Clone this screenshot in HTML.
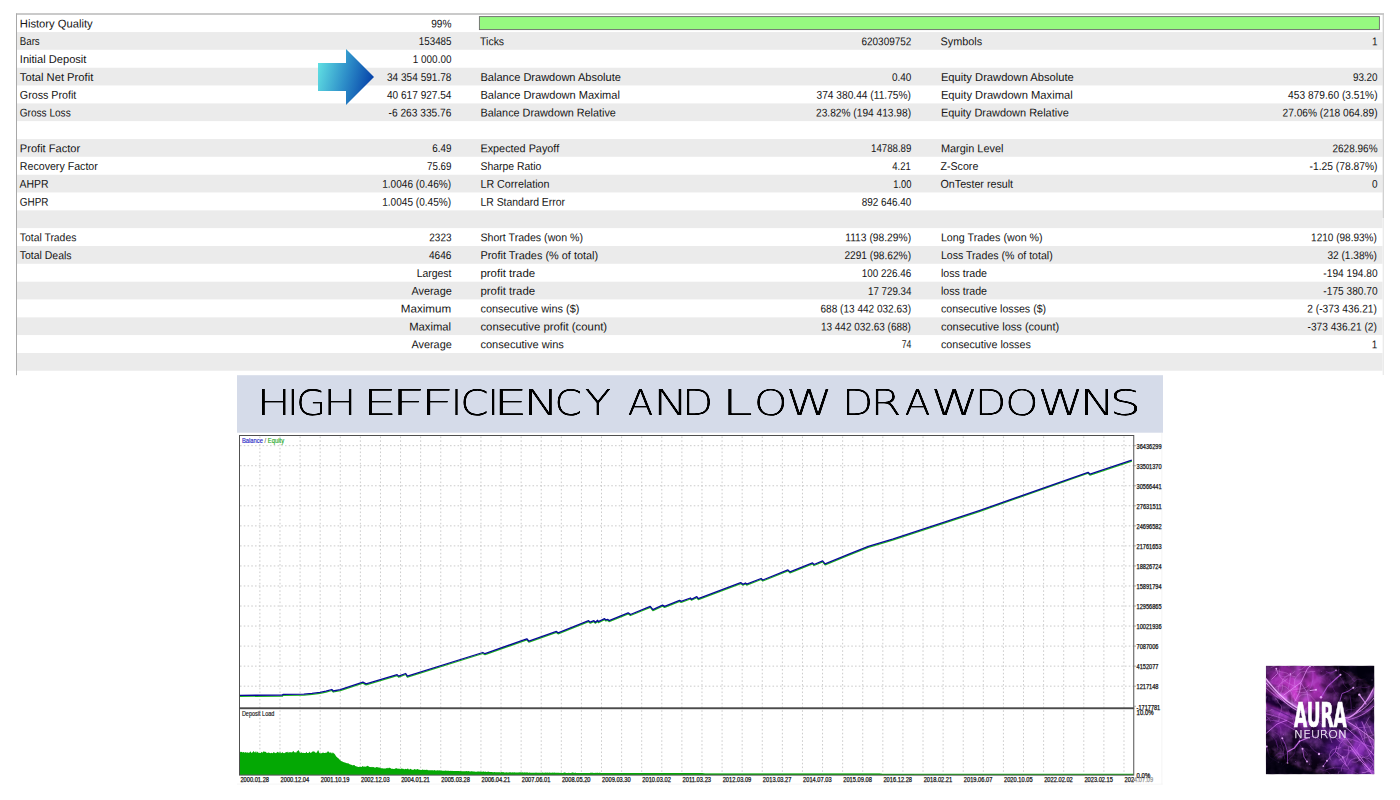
<!DOCTYPE html>
<html lang="en"><head><meta charset="utf-8"><title>Strategy Tester Report</title>
<style>
html,body{margin:0;padding:0;background:#fff;}
body{width:1400px;height:800px;overflow:hidden;position:relative;}
svg{position:absolute;left:0;top:0;display:block;}
.t{font-family:"Liberation Sans",sans-serif;font-size:11.3px;fill:#141414;}
.e{text-anchor:end;}
.ax{font-family:"Liberation Sans",sans-serif;font-size:6.55px;fill:#151515;stroke:#151515;stroke-width:.25px;}
.bn{font-family:"DejaVu Sans Light","DejaVu Sans","Liberation Sans",sans-serif;font-weight:200;font-size:36.4px;fill:#000;}
</style></head><body>
<svg width="1400" height="800" viewBox="0 0 1400 800">
<defs>
<linearGradient id="arr" x1="0" y1="0.32" x2="1" y2="0.56">
<stop offset="0" stop-color="#5fdde2"/><stop offset="0.5" stop-color="#2e8fc9"/><stop offset="1" stop-color="#0540a8"/>
</linearGradient>
<filter id="thk" x="-2%" y="-20%" width="104%" height="140%" color-interpolation-filters="sRGB"><feGaussianBlur stdDeviation="0.12 0.62"/><feComponentTransfer><feFuncA type="linear" slope="1.75" intercept="0"/></feComponentTransfer></filter>
</defs>
<rect x="16.5" y="32.08" width="1366.0" height="17.72" fill="#ebebeb"/>
<rect x="16.5" y="67.74" width="1366.0" height="17.72" fill="#ebebeb"/>
<rect x="16.5" y="103.40" width="1366.0" height="17.72" fill="#ebebeb"/>
<rect x="16.5" y="139.06" width="1366.0" height="17.72" fill="#ebebeb"/>
<rect x="16.5" y="174.72" width="1366.0" height="17.72" fill="#ebebeb"/>
<rect x="16.5" y="210.38" width="1366.0" height="17.72" fill="#ebebeb"/>
<rect x="16.5" y="246.04" width="1366.0" height="17.72" fill="#ebebeb"/>
<rect x="16.5" y="281.70" width="1366.0" height="17.72" fill="#ebebeb"/>
<rect x="16.5" y="317.36" width="1366.0" height="17.72" fill="#ebebeb"/>
<rect x="16.5" y="353.02" width="1366.0" height="17.72" fill="#ebebeb"/>
<rect x="16.0" y="13.5" width="1368.0" height="1" fill="#969696"/>
<rect x="16.0" y="13.5" width="1" height="361.7" fill="#a8a8a8"/>
<rect x="1382.7" y="14" width="1.1" height="204" fill="#c6c6c6"/>
<rect x="1382.7" y="218" width="1.1" height="157" fill="#e6e6e6"/>
<rect x="479.4" y="16.6" width="900" height="13" fill="#96fa80" stroke="#6a6a6a" stroke-width="0.9"/>
<path d="M318 63 H346 V49 L374 77 L346 105 V91 H318 Z" fill="url(#arr)"/>
<text class="t" transform="translate(19.80,27.45) rotate(.03) scale(0.9935,1)">History Quality</text>
<text class="t" transform="translate(431.20,27.45) rotate(.03) scale(0.8972,1)">99%</text>
<text class="t" transform="translate(19.80,45.27) rotate(.03) scale(0.8568,1)">Bars</text>
<text class="t" transform="translate(418.80,45.27) rotate(.03) scale(0.8674,1)">153485</text>
<text class="t" transform="translate(480.10,45.27) rotate(.03) scale(0.9249,1)">Ticks</text>
<text class="t" transform="translate(861.50,45.27) rotate(.03) scale(0.8824,1)">620309752</text>
<text class="t" transform="translate(940.50,45.27) rotate(.03) scale(0.9602,1)">Symbols</text>
<text class="t" transform="translate(1372.05,45.27) rotate(.03) scale(0.8850,1)">1</text>
<text class="t" transform="translate(19.80,63.09) rotate(.03) scale(0.9834,1)">Initial Deposit</text>
<text class="t" transform="translate(412.80,63.09) rotate(.03) scale(0.8800,1)">1 000.00</text>
<text class="t" transform="translate(19.80,80.91) rotate(.03) scale(0.9912,1)">Total Net Profit</text>
<text class="t" transform="translate(387.00,80.91) rotate(.03) scale(0.8927,1)">34 354 591.78</text>
<text class="t" transform="translate(480.45,80.91) rotate(.03) scale(0.9778,1)">Balance Drawdown Absolute</text>
<text class="t" transform="translate(892.00,80.91) rotate(.03) scale(0.8818,1)">0.40</text>
<text class="t" transform="translate(940.90,80.91) rotate(.03) scale(0.9894,1)">Equity Drawdown Absolute</text>
<text class="t" transform="translate(1352.90,80.91) rotate(.03) scale(0.8736,1)">93.20</text>
<text class="t" transform="translate(19.80,98.73) rotate(.03) scale(0.9497,1)">Gross Profit</text>
<text class="t" transform="translate(387.00,98.73) rotate(.03) scale(0.8927,1)">40 617 927.54</text>
<text class="t" transform="translate(480.45,98.73) rotate(.03) scale(0.9790,1)">Balance Drawdown Maximal</text>
<text class="t" transform="translate(816.50,98.73) rotate(.03) scale(0.9035,1)">374 380.44 (11.75%)</text>
<text class="t" transform="translate(940.90,98.73) rotate(.03) scale(0.9908,1)">Equity Drawdown Maximal</text>
<text class="t" transform="translate(1288.10,98.73) rotate(.03) scale(0.9018,1)">453 879.60 (3.51%)</text>
<text class="t" transform="translate(19.80,116.55) rotate(.03) scale(0.8915,1)">Gross Loss</text>
<text class="t" transform="translate(388.50,116.55) rotate(.03) scale(0.9032,1)">-6 263 335.76</text>
<text class="t" transform="translate(480.45,116.55) rotate(.03) scale(0.9591,1)">Balance Drawdown Relative</text>
<text class="t" transform="translate(816.00,116.55) rotate(.03) scale(0.9010,1)">23.82% (194 413.98)</text>
<text class="t" transform="translate(940.90,116.55) rotate(.03) scale(0.9697,1)">Equity Drawdown Relative</text>
<text class="t" transform="translate(1282.50,116.55) rotate(.03) scale(0.9010,1)">27.06% (218 064.89)</text>
<text class="t" transform="translate(19.80,152.19) rotate(.03) scale(0.9817,1)">Profit Factor</text>
<text class="t" transform="translate(432.30,152.19) rotate(.03) scale(0.8727,1)">6.49</text>
<text class="t" transform="translate(480.45,152.19) rotate(.03) scale(0.9601,1)">Expected Payoff</text>
<text class="t" transform="translate(871.00,152.19) rotate(.03) scale(0.8573,1)">14788.89</text>
<text class="t" transform="translate(940.90,152.19) rotate(.03) scale(0.9675,1)">Margin Level</text>
<text class="t" transform="translate(1332.50,152.19) rotate(.03) scale(0.8861,1)">2628.96%</text>
<text class="t" transform="translate(19.80,170.01) rotate(.03) scale(0.9421,1)">Recovery Factor</text>
<text class="t" transform="translate(427.00,170.01) rotate(.03) scale(0.8665,1)">75.69</text>
<text class="t" transform="translate(480.45,170.01) rotate(.03) scale(0.9227,1)">Sharpe Ratio</text>
<text class="t" transform="translate(892.30,170.01) rotate(.03) scale(0.8409,1)">4.21</text>
<text class="t" transform="translate(940.50,170.01) rotate(.03) scale(0.9409,1)">Z-Score</text>
<text class="t" transform="translate(1309.50,170.01) rotate(.03) scale(0.9110,1)">-1.25 (78.87%)</text>
<text class="t" transform="translate(19.50,187.83) rotate(.03) scale(0.9252,1)">AHPR</text>
<text class="t" transform="translate(382.20,187.83) rotate(.03) scale(0.8929,1)">1.0046 (0.46%)</text>
<text class="t" transform="translate(480.45,187.83) rotate(.03) scale(0.9492,1)">LR Correlation</text>
<text class="t" transform="translate(893.20,187.83) rotate(.03) scale(0.8273,1)">1.00</text>
<text class="t" transform="translate(940.50,187.83) rotate(.03) scale(0.9488,1)">OnTester result</text>
<text class="t" transform="translate(1372.05,187.83) rotate(.03) scale(0.8850,1)">0</text>
<text class="t" transform="translate(19.80,205.65) rotate(.03) scale(0.8806,1)">GHPR</text>
<text class="t" transform="translate(382.20,205.65) rotate(.03) scale(0.8929,1)">1.0045 (0.45%)</text>
<text class="t" transform="translate(480.45,205.65) rotate(.03) scale(0.9231,1)">LR Standard Error</text>
<text class="t" transform="translate(861.70,205.65) rotate(.03) scale(0.8789,1)">892 646.40</text>
<text class="t" transform="translate(19.80,241.29) rotate(.03) scale(0.9196,1)">Total Trades</text>
<text class="t" transform="translate(429.30,241.29) rotate(.03) scale(0.8827,1)">2323</text>
<text class="t" transform="translate(480.45,241.29) rotate(.03) scale(0.9394,1)">Short Trades (won %)</text>
<text class="t" transform="translate(845.20,241.29) rotate(.03) scale(0.9096,1)">1113 (98.29%)</text>
<text class="t" transform="translate(940.90,241.29) rotate(.03) scale(0.9483,1)">Long Trades (won %)</text>
<text class="t" transform="translate(1311.10,241.29) rotate(.03) scale(0.8877,1)">1210 (98.93%)</text>
<text class="t" transform="translate(19.80,259.11) rotate(.03) scale(0.9275,1)">Total Deals</text>
<text class="t" transform="translate(429.00,259.11) rotate(.03) scale(0.8946,1)">4646</text>
<text class="t" transform="translate(480.45,259.11) rotate(.03) scale(0.9666,1)">Profit Trades (% of total)</text>
<text class="t" transform="translate(844.40,259.11) rotate(.03) scale(0.8998,1)">2291 (98.62%)</text>
<text class="t" transform="translate(940.90,259.11) rotate(.03) scale(0.9386,1)">Loss Trades (% of total)</text>
<text class="t" transform="translate(1327.40,259.11) rotate(.03) scale(0.8955,1)">32 (1.38%)</text>
<text class="t" transform="translate(416.70,276.93) rotate(.03) scale(0.9231,1)">Largest</text>
<text class="t" transform="translate(480.45,276.93) rotate(.03) scale(1.0134,1)">profit trade</text>
<text class="t" transform="translate(861.80,276.93) rotate(.03) scale(0.8771,1)">100 226.46</text>
<text class="t" transform="translate(940.90,276.93) rotate(.03) scale(0.9429,1)">loss trade</text>
<text class="t" transform="translate(1323.35,276.93) rotate(.03) scale(0.8993,1)">-194 194.80</text>
<text class="t" transform="translate(411.40,294.75) rotate(.03) scale(0.9648,1)">Average</text>
<text class="t" transform="translate(480.45,294.75) rotate(.03) scale(1.0134,1)">profit trade</text>
<text class="t" transform="translate(868.00,294.75) rotate(.03) scale(0.8633,1)">17 729.34</text>
<text class="t" transform="translate(940.90,294.75) rotate(.03) scale(0.9429,1)">loss trade</text>
<text class="t" transform="translate(1323.35,294.75) rotate(.03) scale(0.8993,1)">-175 380.70</text>
<text class="t" transform="translate(400.80,312.57) rotate(.03) scale(1.0291,1)">Maximum</text>
<text class="t" transform="translate(480.45,312.57) rotate(.03) scale(0.9685,1)">consecutive wins ($)</text>
<text class="t" transform="translate(820.50,312.57) rotate(.03) scale(0.8902,1)">688 (13 442 032.63)</text>
<text class="t" transform="translate(940.90,312.57) rotate(.03) scale(0.9423,1)">consecutive losses ($)</text>
<text class="t" transform="translate(1307.25,312.57) rotate(.03) scale(0.9013,1)">2 (-373 436.21)</text>
<text class="t" transform="translate(409.20,330.39) rotate(.03) scale(0.9982,1)">Maximal</text>
<text class="t" transform="translate(480.45,330.39) rotate(.03) scale(1.0048,1)">consecutive profit (count)</text>
<text class="t" transform="translate(820.90,330.39) rotate(.03) scale(0.8863,1)">13 442 032.63 (688)</text>
<text class="t" transform="translate(940.90,330.39) rotate(.03) scale(0.9775,1)">consecutive loss (count)</text>
<text class="t" transform="translate(1307.60,330.39) rotate(.03) scale(0.8968,1)">-373 436.21 (2)</text>
<text class="t" transform="translate(411.40,348.21) rotate(.03) scale(0.9648,1)">Average</text>
<text class="t" transform="translate(480.45,348.21) rotate(.03) scale(0.9781,1)">consecutive wins</text>
<text class="t" transform="translate(901.80,348.21) rotate(.03) scale(0.7634,1)">74</text>
<text class="t" transform="translate(940.90,348.21) rotate(.03) scale(0.9483,1)">consecutive losses</text>
<text class="t" transform="translate(1371.65,348.21) rotate(.03) scale(0.8850,1)">1</text>
<rect x="237" y="375.2" width="926" height="57.5" fill="#d5dbe9"/>
<text class="bn" aria-label="HIGH EFFICIENCY AND LOW DRAWDOWNS" y="415.0" filter="url(#thk)" style="font-size:35.8px"><tspan x="256.88" textLength="34.16" lengthAdjust="spacingAndGlyphs">H</tspan><tspan x="287.56" textLength="10.56" lengthAdjust="spacingAndGlyphs">I</tspan><tspan x="296.39" textLength="29.81" lengthAdjust="spacingAndGlyphs">G</tspan><tspan x="323.20" textLength="33.41" lengthAdjust="spacingAndGlyphs">H</tspan><tspan x="355.1"> </tspan><tspan x="362.63" textLength="34.68" lengthAdjust="spacingAndGlyphs">E</tspan><tspan x="391.30" textLength="34.39" lengthAdjust="spacingAndGlyphs">F</tspan><tspan x="419.74" textLength="34.70" lengthAdjust="spacingAndGlyphs">F</tspan><tspan x="451.36" textLength="10.56" lengthAdjust="spacingAndGlyphs">I</tspan><tspan x="460.23" textLength="28.38" lengthAdjust="spacingAndGlyphs">C</tspan><tspan x="487.91" textLength="10.56" lengthAdjust="spacingAndGlyphs">I</tspan><tspan x="493.39" textLength="34.38" lengthAdjust="spacingAndGlyphs">E</tspan><tspan x="523.66" textLength="34.83" lengthAdjust="spacingAndGlyphs">N</tspan><tspan x="554.63" textLength="27.50" lengthAdjust="spacingAndGlyphs">C</tspan><tspan x="584.73" textLength="26.27" lengthAdjust="spacingAndGlyphs">Y</tspan><tspan x="614.0"> </tspan><tspan x="627.79" textLength="25.55" lengthAdjust="spacingAndGlyphs">A</tspan><tspan x="653.24" textLength="34.99" lengthAdjust="spacingAndGlyphs">N</tspan><tspan x="682.24" textLength="30.80" lengthAdjust="spacingAndGlyphs">D</tspan><tspan x="713.7"> </tspan><tspan x="721.80" textLength="31.04" lengthAdjust="spacingAndGlyphs">L</tspan><tspan x="753.92" textLength="33.55" lengthAdjust="spacingAndGlyphs">O</tspan><tspan x="786.03" textLength="46.70" lengthAdjust="spacingAndGlyphs">W</tspan><tspan x="832.3"> </tspan><tspan x="842.24" textLength="30.80" lengthAdjust="spacingAndGlyphs">D</tspan><tspan x="870.54" textLength="30.85" lengthAdjust="spacingAndGlyphs">R</tspan><tspan x="904.88" textLength="25.66" lengthAdjust="spacingAndGlyphs">A</tspan><tspan x="930.97" textLength="47.54" lengthAdjust="spacingAndGlyphs">W</tspan><tspan x="975.07" textLength="31.21" lengthAdjust="spacingAndGlyphs">D</tspan><tspan x="1005.15" textLength="33.30" lengthAdjust="spacingAndGlyphs">O</tspan><tspan x="1037.89" textLength="45.75" lengthAdjust="spacingAndGlyphs">W</tspan><tspan x="1079.61" textLength="35.78" lengthAdjust="spacingAndGlyphs">N</tspan><tspan x="1109.58" textLength="31.58" lengthAdjust="spacingAndGlyphs">S</tspan></text>
<rect x="237" y="433" width="925.5" height="351" fill="#fff"/>
<rect x="1161.4" y="433" width="1" height="351.5" fill="#f4f4f4"/>
<rect x="237" y="783.6" width="925.5" height="1" fill="#f6f6f6"/>
<path d="M259.89 436.5V774.6M279.99 436.5V774.6M300.09 436.5V774.6M320.18 436.5V774.6M340.27 436.5V774.6M360.37 436.5V774.6M380.47 436.5V774.6M400.56 436.5V774.6M420.65 436.5V774.6M440.75 436.5V774.6M460.85 436.5V774.6M480.94 436.5V774.6M501.04 436.5V774.6M521.13 436.5V774.6M541.22 436.5V774.6M561.32 436.5V774.6M581.41 436.5V774.6M601.51 436.5V774.6M621.61 436.5V774.6M641.70 436.5V774.6M661.80 436.5V774.6M681.89 436.5V774.6M701.98 436.5V774.6M722.08 436.5V774.6M742.17 436.5V774.6M762.27 436.5V774.6M782.37 436.5V774.6M802.46 436.5V774.6M822.56 436.5V774.6M842.65 436.5V774.6M862.74 436.5V774.6M882.84 436.5V774.6M902.93 436.5V774.6M923.03 436.5V774.6M943.12 436.5V774.6M963.22 436.5V774.6M983.32 436.5V774.6M1003.41 436.5V774.6M1023.50 436.5V774.6M1043.60 436.5V774.6M1063.69 436.5V774.6M1083.79 436.5V774.6M1103.88 436.5V774.6M1123.98 436.5V774.6M240.0 445.70H1133.8M240.0 465.74H1133.8M240.0 485.78H1133.8M240.0 505.82H1133.8M240.0 525.86H1133.8M240.0 545.90H1133.8M240.0 565.94H1133.8M240.0 585.98H1133.8M240.0 606.02H1133.8M240.0 626.06H1133.8M240.0 646.10H1133.8M240.0 666.14H1133.8M240.0 686.18H1133.8" stroke="#cbcbcb" stroke-width="1" stroke-dasharray="1.6 2.15" fill="none"/>
<path d="M239.6 696.4 L282.5 696.0 L283.0 695.4 L303.9 695.1 L312.0 694.4 L320.0 693.4 L326.0 692.2 L331.8 690.5 L333.3 692.0 L340.3 690.6 L362.9 683.1 L366.1 684.9 L397.1 675.6 L398.6 677.1 L405.7 674.5 L407.4 677.1 L482.8 653.5 L485.0 654.7 L526.8 639.8 L528.9 642.2 L556.4 632.4 L558.1 633.8 L588.6 621.7 L590.3 623.2 L593.9 621.7 L595.4 623.2 L597.6 621.2 L598.4 622.6 L604.6 619.6 L605.7 620.9 L607.9 620.4 L609.1 621.7 L628.2 613.8 L630.4 615.5 L650.3 607.4 L652.9 610.6 L662.5 606.1 L664.6 607.4 L679.6 601.4 L681.1 602.4 L690.4 599.0 L691.4 600.2 L696.8 597.7 L698.3 599.6 L740.7 583.6 L742.9 585.2 L745.4 584.0 L746.7 585.1 L761.1 579.5 L762.8 581.0 L787.9 570.9 L790.0 572.9 L812.5 563.9 L814.0 565.5 L822.6 561.9 L825.1 564.9 L848.9 555.1 L868.3 547.4 L892.6 540.1 L980.0 511.3 L1088.1 473.2 L1090.0 475.1 L1131.8 461.1" stroke="#1cb41c" stroke-width="1.25" fill="none" stroke-linejoin="round"/>
<path d="M239.6 695.4 L282.5 695.0 L283.0 694.4 L303.9 694.1 L312.0 693.4 L320.0 692.4 L326.0 691.2 L331.8 689.5 L333.3 691.0 L340.3 689.6 L362.9 682.1 L366.1 683.9 L397.1 674.6 L398.6 676.1 L405.7 673.5 L407.4 676.1 L482.8 652.5 L485.0 653.7 L526.8 638.8 L528.9 641.2 L556.4 631.4 L558.1 632.8 L588.6 620.7 L590.3 622.2 L593.9 620.7 L595.4 622.2 L597.6 620.3 L598.4 621.6 L604.6 618.6 L605.7 619.9 L607.9 619.4 L609.1 620.7 L628.2 612.8 L630.4 614.5 L650.3 606.4 L652.9 609.6 L662.5 605.1 L664.6 606.4 L679.6 600.4 L681.1 601.4 L690.4 598.0 L691.4 599.3 L696.8 596.7 L698.3 598.6 L740.7 582.6 L742.9 584.3 L745.4 583.0 L746.7 584.1 L761.1 578.5 L762.8 580.0 L787.9 569.9 L790.0 571.9 L812.5 562.9 L814.0 564.5 L822.6 560.9 L825.1 563.9 L848.9 554.1 L868.3 546.4 L892.6 539.1 L980.0 510.4 L1088.1 472.3 L1090.0 474.2 L1131.8 460.2" stroke="#08089a" stroke-width="1.3" fill="none" stroke-linejoin="round"/>
<path d="M239.5 775.1 L240.0 751.40 L240.8 752.30 L241.6 751.65 L242.4 752.55 L243.2 751.98 L244.0 752.33 L244.8 752.63 L245.6 752.12 L246.4 752.68 L247.2 752.31 L248.0 752.71 L248.8 752.73 L249.6 752.39 L250.4 751.36 L251.2 752.78 L252.0 752.73 L252.8 752.04 L253.6 751.00 L254.4 752.21 L255.2 752.60 L256.0 750.95 L256.8 752.97 L257.6 751.45 L258.4 752.85 L259.2 753.00 L260.0 753.04 L260.8 752.89 L261.6 751.71 L262.4 752.86 L263.2 751.81 L264.0 751.27 L264.8 752.02 L265.6 751.87 L266.4 752.68 L267.2 752.86 L268.0 752.97 L268.8 752.27 L269.6 753.05 L270.4 753.31 L271.2 752.78 L272.0 753.05 L272.8 753.27 L273.6 752.12 L274.4 752.40 L275.2 753.28 L276.0 752.69 L276.8 752.79 L277.6 751.74 L278.4 752.21 L279.2 753.14 L280.0 751.28 L280.8 753.25 L281.6 752.89 L282.4 752.03 L283.2 753.17 L284.0 752.70 L284.8 753.18 L285.6 752.23 L286.4 751.92 L287.2 752.44 L288.0 751.50 L288.8 752.88 L289.6 752.06 L290.4 752.31 L291.2 752.33 L292.0 752.58 L292.8 751.52 L293.6 751.11 L294.4 752.49 L295.2 752.02 L296.0 752.92 L296.8 751.41 L297.6 751.09 L298.4 749.93 L299.2 751.15 L300.0 752.95 L300.8 752.80 L301.6 752.17 L302.4 753.10 L303.2 752.64 L304.0 753.02 L304.8 753.04 L305.6 753.05 L306.4 751.81 L307.2 753.01 L308.0 752.90 L308.8 752.70 L309.6 751.42 L310.4 752.99 L311.2 752.57 L312.0 752.35 L312.8 751.34 L313.6 751.56 L314.4 751.39 L315.2 752.78 L316.0 752.57 L316.8 752.66 L317.6 750.68 L318.4 750.28 L319.2 752.72 L320.0 753.26 L320.8 753.17 L321.6 753.13 L322.4 752.71 L323.2 752.44 L324.0 752.98 L324.8 753.08 L325.6 752.68 L326.4 752.72 L327.2 752.29 L328.0 751.02 L328.8 752.08 L329.6 752.69 L330.4 752.60 L331.2 752.60 L332.0 753.72 L332.8 752.19 L333.6 753.22 L334.4 753.65 L335.2 754.67 L336.0 756.28 L336.8 756.99 L337.6 757.85 L338.4 758.18 L339.2 759.28 L340.0 759.99 L340.8 760.67 L341.6 761.30 L342.4 761.52 L343.2 761.93 L344.0 762.24 L344.8 762.53 L345.6 762.85 L346.4 763.03 L347.2 763.47 L348.0 763.03 L348.8 763.71 L349.6 764.37 L350.4 764.60 L351.2 764.79 L352.0 765.02 L352.8 765.38 L353.6 764.93 L354.4 764.91 L355.2 765.90 L356.0 766.13 L356.8 766.59 L357.6 766.83 L358.4 766.97 L359.2 767.04 L360.0 766.39 L360.8 766.99 L361.6 766.97 L362.4 766.03 L363.2 766.60 L364.0 766.80 L364.8 766.49 L365.6 766.73 L366.4 766.41 L367.2 765.73 L368.0 766.05 L368.8 766.41 L369.6 766.92 L370.4 766.96 L371.2 767.17 L372.0 766.71 L372.8 767.13 L373.6 766.91 L374.4 767.51 L375.2 767.67 L376.0 767.18 L376.8 766.98 L377.6 767.32 L378.4 767.50 L379.2 767.58 L380.0 767.81 L380.8 768.33 L381.6 768.15 L382.4 768.32 L383.2 768.48 L384.0 768.52 L384.8 768.47 L385.6 768.52 L386.4 768.15 L387.2 767.76 L388.0 768.49 L388.8 767.86 L389.6 767.80 L390.4 767.90 L391.2 768.69 L392.0 768.81 L392.8 768.84 L393.6 768.89 L394.4 768.92 L395.2 768.61 L396.0 768.24 L396.8 768.37 L397.6 768.87 L398.4 768.72 L399.2 768.54 L400.0 769.20 L400.8 768.81 L401.6 768.46 L402.4 768.70 L403.2 768.78 L404.0 769.14 L404.8 769.36 L405.6 768.82 L406.4 769.35 L407.2 768.86 L408.0 768.60 L408.8 769.40 L409.6 769.43 L410.4 768.74 L411.2 769.13 L412.0 769.65 L412.8 769.70 L413.6 769.72 L414.4 768.97 L415.2 769.17 L416.0 769.82 L416.8 769.20 L417.6 768.96 L418.4 769.51 L419.2 769.84 L420.0 769.73 L420.8 769.88 L421.6 769.92 L422.4 769.56 L423.2 769.81 L424.0 769.90 L424.8 769.68 L425.6 770.00 L426.4 769.79 L427.2 769.85 L428.0 770.15 L428.8 770.18 L429.6 770.20 L430.4 770.24 L431.2 770.15 L432.0 770.30 L432.8 770.29 L433.6 770.39 L434.4 770.08 L435.2 770.40 L436.0 770.40 L436.8 770.38 L437.6 770.21 L438.4 770.51 L439.2 770.26 L440.0 770.54 L440.8 770.56 L441.6 770.60 L442.4 770.74 L443.2 770.69 L444.0 770.79 L444.8 770.83 L445.6 770.58 L446.4 770.86 L447.2 770.80 L448.0 770.70 L448.8 770.81 L449.6 770.92 L450.4 770.87 L451.2 770.88 L452.0 770.77 L452.8 771.05 L453.6 770.94 L454.4 771.07 L455.2 771.08 L456.0 770.89 L456.8 771.05 L457.6 771.05 L458.4 770.96 L459.2 770.88 L460.0 771.17 L460.8 771.12 L461.6 771.19 L462.4 771.21 L463.2 771.14 L464.0 771.28 L464.8 771.27 L465.6 771.31 L466.4 771.06 L467.2 771.25 L468.0 771.15 L468.8 771.12 L469.6 771.49 L470.4 771.41 L471.2 771.19 L472.0 771.29 L472.8 771.60 L473.6 771.62 L474.4 771.57 L475.2 771.67 L476.0 771.67 L476.8 771.72 L477.6 771.55 L478.4 771.51 L479.2 771.45 L480.0 771.80 L480.8 771.62 L481.6 771.67 L482.4 771.87 L483.2 771.57 L484.0 771.53 L484.8 771.92 L485.6 771.58 L486.4 771.92 L487.2 771.91 L488.0 771.62 L488.8 771.76 L489.6 772.06 L490.4 772.02 L491.2 772.01 L492.0 772.09 L492.8 772.15 L493.6 772.14 L494.4 771.99 L495.2 772.23 L496.0 772.13 L496.8 772.19 L497.6 772.30 L498.4 772.27 L499.2 772.18 L500.0 772.26 L500.8 772.39 L501.6 772.00 L502.4 772.17 L503.2 772.06 L504.0 772.47 L504.8 772.47 L505.6 772.51 L506.4 772.26 L507.2 772.49 L508.0 772.52 L508.8 772.46 L509.6 772.19 L510.4 772.26 L511.2 772.52 L512.0 772.54 L512.8 772.20 L513.6 772.43 L514.4 772.36 L515.2 772.57 L516.0 772.58 L516.8 772.39 L517.6 772.52 L518.4 772.60 L519.2 772.23 L520.0 772.44 L520.8 772.34 L521.6 772.62 L522.4 772.32 L523.2 772.63 L524.0 772.32 L524.8 772.56 L525.6 772.60 L526.4 772.53 L527.2 772.30 L528.0 772.63 L528.8 772.66 L529.6 772.56 L530.4 772.66 L531.2 772.68 L532.0 772.68 L532.8 772.70 L533.6 772.69 L534.4 772.67 L535.2 772.68 L536.0 772.48 L536.8 772.69 L537.6 772.63 L538.4 772.72 L539.2 772.69 L540.0 772.75 L540.8 772.73 L541.6 772.76 L542.4 772.54 L543.2 772.64 L544.0 772.76 L544.8 772.69 L545.6 772.42 L546.4 772.79 L547.2 772.52 L548.0 772.73 L548.8 772.71 L549.6 772.52 L550.4 772.76 L551.2 772.72 L552.0 772.63 L552.8 772.43 L553.6 772.79 L554.4 772.56 L555.2 772.64 L556.0 772.69 L556.8 772.80 L557.6 772.82 L558.4 772.87 L559.2 772.87 L560.0 772.88 L560.8 772.66 L561.6 772.87 L562.4 772.89 L563.2 772.91 L564.0 772.62 L564.8 772.60 L565.6 772.74 L566.4 772.90 L567.2 772.91 L568.0 772.91 L568.8 772.86 L569.6 772.94 L570.4 772.88 L571.2 772.94 L572.0 772.58 L572.8 772.58 L573.6 772.86 L574.4 772.96 L575.2 772.60 L576.0 772.96 L576.8 772.95 L577.6 773.01 L578.4 772.95 L579.2 772.91 L580.0 772.90 L580.8 772.99 L581.6 772.91 L582.4 773.01 L583.2 772.99 L584.0 773.01 L584.8 772.95 L585.6 773.02 L586.4 773.02 L587.2 772.98 L588.0 773.00 L588.8 772.88 L589.6 772.91 L590.4 772.79 L591.2 772.85 L592.0 772.81 L592.8 772.71 L593.6 772.97 L594.4 772.99 L595.2 772.63 L596.0 773.03 L596.8 772.82 L597.6 772.86 L598.4 773.04 L599.2 772.75 L600.0 772.71 L600.8 772.94 L601.6 772.94 L602.4 772.94 L603.2 772.94 L604.0 772.94 L604.8 772.94 L605.6 772.95 L606.4 772.95 L607.2 772.95 L608.0 772.95 L608.8 772.95 L609.6 772.95 L610.4 772.95 L611.2 772.95 L612.0 772.96 L612.8 772.96 L613.6 772.96 L614.4 772.96 L615.2 772.96 L616.0 772.96 L616.8 772.96 L617.6 772.96 L618.4 772.97 L619.2 772.97 L620.0 772.97 L620.8 772.97 L621.6 772.97 L622.4 772.97 L623.2 772.97 L624.0 772.97 L624.8 772.98 L625.6 772.98 L626.4 772.98 L627.2 772.98 L628.0 772.98 L628.8 772.98 L629.6 772.98 L630.4 772.98 L631.2 772.99 L632.0 772.99 L632.8 772.99 L633.6 772.99 L634.4 772.99 L635.2 772.99 L636.0 772.99 L636.8 772.99 L637.6 773.00 L638.4 773.00 L639.2 773.00 L640.0 773.00 L640.8 773.00 L641.6 773.00 L642.4 773.00 L643.2 773.01 L644.0 773.01 L644.8 773.01 L645.6 773.01 L646.4 773.01 L647.2 773.01 L648.0 773.01 L648.8 773.01 L649.6 773.02 L650.4 773.02 L651.2 773.02 L652.0 773.02 L652.8 773.02 L653.6 773.02 L654.4 773.02 L655.2 773.02 L656.0 773.03 L656.8 773.03 L657.6 773.03 L658.4 773.03 L659.2 773.03 L660.0 773.03 L660.8 773.03 L661.6 773.03 L662.4 773.04 L663.2 773.04 L664.0 773.04 L664.8 773.04 L665.6 773.04 L666.4 773.04 L667.2 773.04 L668.0 773.04 L668.8 773.05 L669.6 773.05 L670.4 773.05 L671.2 773.05 L672.0 773.05 L672.8 773.05 L673.6 773.05 L674.4 773.05 L675.2 773.06 L676.0 773.06 L676.8 773.06 L677.6 773.06 L678.4 773.06 L679.2 773.06 L680.0 773.06 L680.8 773.06 L681.6 773.07 L682.4 773.07 L683.2 773.07 L684.0 773.07 L684.8 773.07 L685.6 773.07 L686.4 773.07 L687.2 773.07 L688.0 773.08 L688.8 773.08 L689.6 773.08 L690.4 773.08 L691.2 773.08 L692.0 773.08 L692.8 773.08 L693.6 773.09 L694.4 773.09 L695.2 773.09 L696.0 773.09 L696.8 773.09 L697.6 773.09 L698.4 773.09 L699.2 773.09 L700.0 773.10 L700.8 773.10 L701.6 773.10 L702.4 773.10 L703.2 773.14 L704.0 773.30 L704.8 773.46 L705.6 773.50 L706.4 773.50 L707.2 773.50 L708.0 773.50 L708.8 773.50 L709.6 773.50 L710.4 773.50 L711.2 773.50 L712.0 773.50 L712.8 773.50 L713.6 773.50 L714.4 773.51 L715.2 773.51 L716.0 773.51 L716.8 773.51 L717.6 773.51 L718.4 773.51 L719.2 773.51 L720.0 773.51 L720.8 773.51 L721.6 773.51 L722.4 773.51 L723.2 773.51 L724.0 773.51 L724.8 773.51 L725.6 773.51 L726.4 773.51 L727.2 773.51 L728.0 773.51 L728.8 773.51 L729.6 773.51 L730.4 773.51 L731.2 773.51 L732.0 773.52 L732.8 773.52 L733.6 773.52 L734.4 773.52 L735.2 773.52 L736.0 773.52 L736.8 773.52 L737.6 773.52 L738.4 773.52 L739.2 773.52 L740.0 773.52 L740.8 773.52 L741.6 773.52 L742.4 773.52 L743.2 773.52 L744.0 773.52 L744.8 773.52 L745.6 773.52 L746.4 773.52 L747.2 773.52 L748.0 773.52 L748.8 773.53 L749.6 773.53 L750.4 773.53 L751.2 773.53 L752.0 773.53 L752.8 773.53 L753.6 773.53 L754.4 773.53 L755.2 773.53 L756.0 773.53 L756.8 773.53 L757.6 773.53 L758.4 773.53 L759.2 773.53 L760.0 773.53 L760.8 773.53 L761.6 773.53 L762.4 773.53 L763.2 773.53 L764.0 773.53 L764.8 773.53 L765.6 773.53 L766.4 773.54 L767.2 773.54 L768.0 773.54 L768.8 773.54 L769.6 773.54 L770.4 773.54 L771.2 773.54 L772.0 773.54 L772.8 773.54 L773.6 773.54 L774.4 773.54 L775.2 773.54 L776.0 773.54 L776.8 773.54 L777.6 773.54 L778.4 773.54 L779.2 773.54 L780.0 773.54 L780.8 773.54 L781.6 773.54 L782.4 773.54 L783.2 773.54 L784.0 773.55 L784.8 773.55 L785.6 773.55 L786.4 773.55 L787.2 773.55 L788.0 773.55 L788.8 773.55 L789.6 773.55 L790.4 773.55 L791.2 773.55 L792.0 773.55 L792.8 773.55 L793.6 773.55 L794.4 773.55 L795.2 773.55 L796.0 773.55 L796.8 773.55 L797.6 773.55 L798.4 773.55 L799.2 773.55 L800.0 773.55 L800.8 773.55 L801.6 773.56 L802.4 773.56 L803.2 773.56 L804.0 773.56 L804.8 773.56 L805.6 773.56 L806.4 773.56 L807.2 773.56 L808.0 773.56 L808.8 773.56 L809.6 773.56 L810.4 773.56 L811.2 773.56 L812.0 773.56 L812.8 773.56 L813.6 773.56 L814.4 773.56 L815.2 773.56 L816.0 773.56 L816.8 773.56 L817.6 773.56 L818.4 773.56 L819.2 773.57 L820.0 773.57 L820.8 773.57 L821.6 773.57 L822.4 773.57 L823.2 773.57 L824.0 773.57 L824.8 773.57 L825.6 773.57 L826.4 773.57 L827.2 773.57 L828.0 773.57 L828.8 773.57 L829.6 773.57 L830.4 773.57 L831.2 773.57 L832.0 773.57 L832.8 773.57 L833.6 773.57 L834.4 773.57 L835.2 773.57 L836.0 773.57 L836.8 773.58 L837.6 773.58 L838.4 773.58 L839.2 773.58 L840.0 773.58 L840.8 773.58 L841.6 773.58 L842.4 773.58 L843.2 773.58 L844.0 773.58 L844.8 773.58 L845.6 773.58 L846.4 773.58 L847.2 773.58 L848.0 773.58 L848.8 773.58 L849.6 773.58 L850.4 773.58 L851.2 773.58 L852.0 773.58 L852.8 773.58 L853.6 773.58 L854.4 773.59 L855.2 773.59 L856.0 773.59 L856.8 773.59 L857.6 773.59 L858.4 773.59 L859.2 773.59 L860.0 773.59 L860.8 773.59 L861.6 773.59 L862.4 773.59 L863.2 773.59 L864.0 773.59 L864.8 773.59 L865.6 773.59 L866.4 773.59 L867.2 773.59 L868.0 773.59 L868.8 773.59 L869.6 773.59 L870.4 773.59 L871.2 773.59 L872.0 773.60 L872.8 773.60 L873.6 773.60 L874.4 773.60 L875.2 773.60 L876.0 773.60 L876.8 773.60 L877.6 773.60 L878.4 773.60 L879.2 773.60 L880.0 773.60 L880.8 773.73 L881.6 773.87 L882.4 774.00 L883.2 774.10 L884.0 774.10 L884.8 774.10 L885.6 774.10 L886.4 774.10 L887.2 774.10 L888.0 774.10 L888.8 774.10 L889.6 774.11 L890.4 774.11 L891.2 774.11 L892.0 774.11 L892.8 774.11 L893.6 774.11 L894.4 774.11 L895.2 774.11 L896.0 774.11 L896.8 774.11 L897.6 774.11 L898.4 774.11 L899.2 774.11 L900.0 774.11 L900.8 774.11 L901.6 774.11 L902.4 774.12 L903.2 774.12 L904.0 774.12 L904.8 774.12 L905.6 774.12 L906.4 774.12 L907.2 774.12 L908.0 774.12 L908.8 774.12 L909.6 774.12 L910.4 774.12 L911.2 774.12 L912.0 774.12 L912.8 774.12 L913.6 774.12 L914.4 774.13 L915.2 774.13 L916.0 774.13 L916.8 774.13 L917.6 774.13 L918.4 774.13 L919.2 774.13 L920.0 774.13 L920.8 774.13 L921.6 774.13 L922.4 774.13 L923.2 774.13 L924.0 774.13 L924.8 774.13 L925.6 774.13 L926.4 774.13 L927.2 774.14 L928.0 774.14 L928.8 774.14 L929.6 774.14 L930.4 774.14 L931.2 774.14 L932.0 774.14 L932.8 774.14 L933.6 774.14 L934.4 774.14 L935.2 774.14 L936.0 774.14 L936.8 774.14 L937.6 774.14 L938.4 774.14 L939.2 774.14 L940.0 774.15 L940.8 774.15 L941.6 774.15 L942.4 774.15 L943.2 774.15 L944.0 774.15 L944.8 774.15 L945.6 774.15 L946.4 774.15 L947.2 774.15 L948.0 774.15 L948.8 774.15 L949.6 774.15 L950.4 774.15 L951.2 774.15 L952.0 774.15 L952.8 774.16 L953.6 774.16 L954.4 774.16 L955.2 774.16 L956.0 774.16 L956.8 774.16 L957.6 774.16 L958.4 774.16 L959.2 774.16 L960.0 774.16 L960.8 774.16 L961.6 774.16 L962.4 774.16 L963.2 774.16 L964.0 774.16 L964.8 774.17 L965.6 774.17 L966.4 774.17 L967.2 774.17 L968.0 774.17 L968.8 774.17 L969.6 774.17 L970.4 774.17 L971.2 774.17 L972.0 774.17 L972.8 774.17 L973.6 774.17 L974.4 774.17 L975.2 774.17 L976.0 774.17 L976.8 774.17 L977.6 774.18 L978.4 774.18 L979.2 774.18 L980.0 774.18 L980.8 774.18 L981.6 774.18 L982.4 774.18 L983.2 774.18 L984.0 774.18 L984.8 774.18 L985.6 774.18 L986.4 774.18 L987.2 774.18 L988.0 774.18 L988.8 774.18 L989.6 774.18 L990.4 774.19 L991.2 774.19 L992.0 774.19 L992.8 774.19 L993.6 774.19 L994.4 774.19 L995.2 774.19 L996.0 774.19 L996.8 774.19 L997.6 774.19 L998.4 774.19 L999.2 774.19 L1000.0 774.19 L1000.8 774.19 L1001.6 774.19 L1002.4 774.20 L1003.2 774.20 L1004.0 774.20 L1004.8 774.20 L1005.6 774.20 L1006.4 774.20 L1007.2 774.20 L1008.0 774.20 L1008.8 774.20 L1009.6 774.20 L1010.4 774.20 L1011.2 774.20 L1012.0 774.20 L1012.8 774.20 L1013.6 774.20 L1014.4 774.20 L1015.2 774.21 L1016.0 774.21 L1016.8 774.21 L1017.6 774.21 L1018.4 774.21 L1019.2 774.21 L1020.0 774.21 L1020.8 774.21 L1021.6 774.21 L1022.4 774.21 L1023.2 774.21 L1024.0 774.21 L1024.8 774.21 L1025.6 774.21 L1026.4 774.21 L1027.2 774.21 L1028.0 774.22 L1028.8 774.22 L1029.6 774.22 L1030.4 774.22 L1031.2 774.22 L1032.0 774.22 L1032.8 774.22 L1033.6 774.22 L1034.4 774.22 L1035.2 774.22 L1036.0 774.22 L1036.8 774.22 L1037.6 774.22 L1038.4 774.22 L1039.2 774.22 L1040.0 774.23 L1040.8 774.23 L1041.6 774.23 L1042.4 774.23 L1043.2 774.23 L1044.0 774.23 L1044.8 774.23 L1045.6 774.23 L1046.4 774.23 L1047.2 774.23 L1048.0 774.23 L1048.8 774.23 L1049.6 774.23 L1050.4 774.23 L1051.2 774.23 L1052.0 774.23 L1052.8 774.24 L1053.6 774.24 L1054.4 774.24 L1055.2 774.24 L1056.0 774.24 L1056.8 774.24 L1057.6 774.24 L1058.4 774.24 L1059.2 774.24 L1060.0 774.24 L1060.8 774.24 L1061.6 774.24 L1062.4 774.24 L1063.2 774.24 L1064.0 774.24 L1064.8 774.24 L1065.6 774.25 L1066.4 774.25 L1067.2 774.25 L1068.0 774.25 L1068.8 774.25 L1069.6 774.25 L1070.4 774.25 L1071.2 774.25 L1072.0 774.25 L1072.8 774.25 L1073.6 774.25 L1074.4 774.25 L1075.2 774.25 L1076.0 774.25 L1076.8 774.25 L1077.6 774.26 L1078.4 774.26 L1079.2 774.26 L1080.0 774.26 L1080.8 774.26 L1081.6 774.26 L1082.4 774.26 L1083.2 774.26 L1084.0 774.26 L1084.8 774.26 L1085.6 774.26 L1086.4 774.26 L1087.2 774.26 L1088.0 774.26 L1088.8 774.26 L1089.6 774.26 L1090.4 774.27 L1091.2 774.27 L1092.0 774.27 L1092.8 774.27 L1093.6 774.27 L1094.4 774.27 L1095.2 774.27 L1096.0 774.27 L1096.8 774.27 L1097.6 774.27 L1098.4 774.27 L1099.2 774.27 L1100.0 774.27 L1100.8 774.27 L1101.6 774.27 L1102.4 774.27 L1103.2 774.28 L1104.0 774.28 L1104.8 774.28 L1105.6 774.28 L1106.4 774.28 L1107.2 774.28 L1108.0 774.28 L1108.8 774.28 L1109.6 774.28 L1110.4 774.28 L1111.2 774.28 L1112.0 774.28 L1112.8 774.28 L1113.6 774.28 L1114.4 774.28 L1115.2 774.29 L1116.0 774.29 L1116.8 774.29 L1117.6 774.29 L1118.4 774.29 L1119.2 774.29 L1120.0 774.29 L1120.8 774.29 L1121.6 774.29 L1122.4 774.29 L1123.2 774.29 L1124.0 774.29 L1124.8 774.29 L1125.6 774.29 L1126.4 774.29 L1127.2 774.29 L1128.0 774.30 L1128.8 774.30 L1129.6 774.30 L1130.4 774.30 L1131.2 774.30 L1132.0 774.30 L1132.8 774.30 L1133.2 775.1Z" fill="#04a804"/>
<rect x="239.5" y="773.75" width="894.2" height="1" fill="#10a810"/>
<rect x="239.5" y="435.5" width="894.25" height="339.60" fill="none" stroke="#505050" stroke-width="1"/>
<rect x="239.0" y="707.3" width="895.2" height="1.9" fill="#4a4a4a"/>
<path d="M1134.2 445.70h1.6M1134.2 465.74h1.6M1134.2 485.78h1.6M1134.2 505.82h1.6M1134.2 525.86h1.6M1134.2 545.90h1.6M1134.2 565.94h1.6M1134.2 585.98h1.6M1134.2 606.02h1.6M1134.2 626.06h1.6M1134.2 646.10h1.6M1134.2 666.14h1.6M1134.2 686.18h1.6M1134.2 706.22h1.6" stroke="#888" stroke-width="0.9"/>
<text class="ax" x="1136.6" y="448.65" textLength="25.0" lengthAdjust="spacingAndGlyphs">36436299</text>
<text class="ax" x="1136.6" y="468.69" textLength="25.0" lengthAdjust="spacingAndGlyphs">33501370</text>
<text class="ax" x="1136.6" y="488.73" textLength="25.0" lengthAdjust="spacingAndGlyphs">30566441</text>
<text class="ax" x="1136.6" y="508.77" textLength="25.0" lengthAdjust="spacingAndGlyphs">27631511</text>
<text class="ax" x="1136.6" y="528.81" textLength="25.0" lengthAdjust="spacingAndGlyphs">24696582</text>
<text class="ax" x="1136.6" y="548.85" textLength="25.0" lengthAdjust="spacingAndGlyphs">21761653</text>
<text class="ax" x="1136.6" y="568.89" textLength="25.0" lengthAdjust="spacingAndGlyphs">18826724</text>
<text class="ax" x="1136.6" y="588.93" textLength="25.0" lengthAdjust="spacingAndGlyphs">15891794</text>
<text class="ax" x="1136.6" y="608.97" textLength="25.0" lengthAdjust="spacingAndGlyphs">12956865</text>
<text class="ax" x="1136.6" y="629.01" textLength="25.0" lengthAdjust="spacingAndGlyphs">10021936</text>
<text class="ax" x="1136.6" y="649.05" textLength="21.9" lengthAdjust="spacingAndGlyphs">7087006</text>
<text class="ax" x="1136.6" y="669.09" textLength="21.9" lengthAdjust="spacingAndGlyphs">4152077</text>
<text class="ax" x="1136.6" y="689.13" textLength="21.9" lengthAdjust="spacingAndGlyphs">1217148</text>
<text class="ax" x="1136.6" y="709.60" textLength="23.6" lengthAdjust="spacingAndGlyphs">-1717781</text>
<text class="ax" x="1136.6" y="715.1" textLength="17" lengthAdjust="spacingAndGlyphs">10.0%</text>
<text class="ax" x="240.40" y="781.9" textLength="28.6" lengthAdjust="spacingAndGlyphs">2000.01.28</text>
<text class="ax" x="280.59" y="781.9" textLength="28.6" lengthAdjust="spacingAndGlyphs">2000.12.04</text>
<text class="ax" x="320.78" y="781.9" textLength="28.6" lengthAdjust="spacingAndGlyphs">2001.10.19</text>
<text class="ax" x="360.97" y="781.9" textLength="28.6" lengthAdjust="spacingAndGlyphs">2002.12.03</text>
<text class="ax" x="401.16" y="781.9" textLength="28.6" lengthAdjust="spacingAndGlyphs">2004.01.21</text>
<text class="ax" x="441.35" y="781.9" textLength="28.6" lengthAdjust="spacingAndGlyphs">2005.03.28</text>
<text class="ax" x="481.54" y="781.9" textLength="28.6" lengthAdjust="spacingAndGlyphs">2006.04.21</text>
<text class="ax" x="521.73" y="781.9" textLength="28.6" lengthAdjust="spacingAndGlyphs">2007.06.01</text>
<text class="ax" x="561.92" y="781.9" textLength="28.6" lengthAdjust="spacingAndGlyphs">2008.05.20</text>
<text class="ax" x="602.11" y="781.9" textLength="28.6" lengthAdjust="spacingAndGlyphs">2009.03.30</text>
<text class="ax" x="642.30" y="781.9" textLength="28.6" lengthAdjust="spacingAndGlyphs">2010.03.02</text>
<text class="ax" x="682.49" y="781.9" textLength="28.6" lengthAdjust="spacingAndGlyphs">2011.03.23</text>
<text class="ax" x="722.68" y="781.9" textLength="28.6" lengthAdjust="spacingAndGlyphs">2012.03.09</text>
<text class="ax" x="762.87" y="781.9" textLength="28.6" lengthAdjust="spacingAndGlyphs">2013.03.27</text>
<text class="ax" x="803.06" y="781.9" textLength="28.6" lengthAdjust="spacingAndGlyphs">2014.07.03</text>
<text class="ax" x="843.25" y="781.9" textLength="28.6" lengthAdjust="spacingAndGlyphs">2015.09.08</text>
<text class="ax" x="883.44" y="781.9" textLength="28.6" lengthAdjust="spacingAndGlyphs">2016.12.28</text>
<text class="ax" x="923.63" y="781.9" textLength="28.6" lengthAdjust="spacingAndGlyphs">2018.02.21</text>
<text class="ax" x="963.82" y="781.9" textLength="28.6" lengthAdjust="spacingAndGlyphs">2019.06.07</text>
<text class="ax" x="1004.01" y="781.9" textLength="28.6" lengthAdjust="spacingAndGlyphs">2020.10.05</text>
<text class="ax" x="1044.20" y="781.9" textLength="28.6" lengthAdjust="spacingAndGlyphs">2022.02.02</text>
<text class="ax" x="1084.39" y="781.9" textLength="28.6" lengthAdjust="spacingAndGlyphs">2023.02.15</text>
<text class="ax" x="1124.58" y="781.9" textLength="28.6" lengthAdjust="spacingAndGlyphs">2024.07.09</text>
<rect x="1134.4" y="776.5" width="27" height="7" fill="#fff" opacity=".55"/>
<text class="ax" x="1136.6" y="777.9" textLength="13.6" lengthAdjust="spacingAndGlyphs">0.0%</text>
<text class="ax" x="241.9" y="443.3" textLength="42.2" lengthAdjust="spacingAndGlyphs" style="font-size:6.8px;stroke-width:.12px"><tspan fill="#1818c4" stroke="#1818c4">Balance</tspan><tspan fill="#333" stroke="none"> / </tspan><tspan fill="#10a410" stroke="#10a410">Equity</tspan></text>
<text class="ax" x="241.9" y="716.3" textLength="32.5" lengthAdjust="spacingAndGlyphs" style="font-size:6.8px;stroke-width:.15px">Deposit Load</text>
<g transform="translate(1265.9,665.75)">
<defs>
<clipPath id="lgc"><rect x="0" y="0" width="108.4" height="108.4"/></clipPath>
<radialGradient id="lg1" cx="30" cy="27" r="52" gradientUnits="userSpaceOnUse"><stop offset="0" stop-color="#cc40d0"/><stop offset="0.5" stop-color="#a42cb2" stop-opacity=".92"/><stop offset="1" stop-color="#3a0a58" stop-opacity="0"/></radialGradient>
<radialGradient id="lg2" cx="92" cy="84" r="44" gradientUnits="userSpaceOnUse"><stop offset="0" stop-color="#8a2cb8"/><stop offset="0.6" stop-color="#55168a" stop-opacity=".8"/><stop offset="1" stop-color="#2a0a4a" stop-opacity="0"/></radialGradient>
<radialGradient id="lg3" cx="50" cy="62" r="40" gradientUnits="userSpaceOnUse"><stop offset="0" stop-color="#4a1478" stop-opacity=".9"/><stop offset="1" stop-color="#200838" stop-opacity="0"/></radialGradient>
<radialGradient id="lg4" cx="12" cy="60" r="26" gradientUnits="userSpaceOnUse"><stop offset="0" stop-color="#7a22a0" stop-opacity=".9"/><stop offset="1" stop-color="#300a50" stop-opacity="0"/></radialGradient>
<filter id="lgb" x="-5%" y="-5%" width="110%" height="110%"><feGaussianBlur stdDeviation="0.45"/></filter>
<filter id="lgn" x="0" y="0" width="100%" height="100%" color-interpolation-filters="sRGB"><feTurbulence type="fractalNoise" baseFrequency="0.11" numOctaves="3" seed="4"/><feColorMatrix type="matrix" values="0 0 0 0 .82  0 0 0 0 .45  0 0 0 0 .95  1.9 0 0 0 -.75"/></filter>
<filter id="lgd" x="0" y="0" width="100%" height="100%" color-interpolation-filters="sRGB"><feTurbulence type="fractalNoise" baseFrequency="0.09" numOctaves="2" seed="9"/><feColorMatrix type="matrix" values="0 0 0 0 .03  0 0 0 0 0  0 0 0 0 .06  0 1.8 0 0 -.7"/></filter>
<filter id="lgt" x="-5%" y="-10%" width="110%" height="120%"><feGaussianBlur stdDeviation="0.28"/></filter>
<filter id="lgb2" x="-5%" y="-5%" width="110%" height="110%"><feGaussianBlur stdDeviation="1.3"/></filter>
</defs>
<g clip-path="url(#lgc)">
<rect width="108.4" height="108.4" fill="#0b0313"/>
<rect width="108.4" height="108.4" fill="url(#lg3)"/>
<rect width="108.4" height="108.4" fill="url(#lg1)"/>
<rect width="108.4" height="108.4" fill="url(#lg2)"/>
<rect width="108.4" height="108.4" fill="url(#lg4)"/>
<g filter="url(#lgb2)" fill="none" stroke-linecap="round">
<path d="M-3 31 C12 37 28 43 47 54" stroke="#22053a" stroke-width="9.5"/>
<path d="M60 58 C78 60 92 66 112 76" stroke="#2c0846" stroke-width="6" opacity=".85"/>
<path d="M-2 14 C10 26 22 36 40 46" stroke="#d67af0" stroke-width="3.2" opacity=".8"/>
<path d="M-2 44 C10 46 24 50 40 58" stroke="#a23cc6" stroke-width="5" opacity=".75"/>
<path d="M110 22 C104 34 98 44 80 52" stroke="#c25fe6" stroke-width="3" opacity=".8"/>
<path d="M110 36 C102 46 92 52 76 56" stroke="#b04fdc" stroke-width="3" opacity=".7"/>
<path d="M70 66 C84 80 96 94 108 108" stroke="#a544d4" stroke-width="5" opacity=".6"/>
<path d="M84 58 C94 66 102 72 110 80" stroke="#b655e0" stroke-width="3" opacity=".7"/>
</g>
<rect width="108.4" height="108.4" filter="url(#lgd)" opacity=".8"/>
<rect width="108.4" height="108.4" filter="url(#lgn)" opacity=".42"/>
<g filter="url(#lgb)" fill="none" stroke-linecap="round">
<path d="M22.6 25.2 L25.3 24.9 L27.8 23.8 L30.5 23.6 L33.2 23.2 L35.9 23.2 L38.5 22.3 L41.0 21.3 L42.9 19.3" stroke="#f0a8ff" stroke-width="0.6" opacity="0.45"/>
<path d="M26.9 40.1 L26.2 36.6 L26.0 33.0 L26.3 29.5 L25.2 26.0 L22.6 23.6 L20.0 21.1 L16.6 20.1 L13.0 20.3 L9.7 21.5" stroke="#f0a8ff" stroke-width="0.6" opacity="0.45"/>
<path d="M1.5 20.9 L-1.3 21.5 L-4.0 22.1 L-6.8 22.2 L-9.7 22.5 L-12.3 23.4 L-15.1 22.8" stroke="#f0a8ff" stroke-width="0.6" opacity="0.45"/>
<path d="M49.8 37.8 L49.0 34.7 L46.7 32.4 L44.7 29.9 L41.8 28.6 L38.5 28.6 L35.4 29.3 L33.0 31.3" stroke="#f0a8ff" stroke-width="0.6" opacity="0.45"/>
<path d="M0.8 30.8 L0.0 33.5 L-0.5 36.2 L0.3 38.8 L0.7 41.5 L0.2 44.2" stroke="#f0a8ff" stroke-width="0.6" opacity="0.45"/>
<path d="M13.5 3.9 L13.2 7.1 L13.8 10.3 L15.6 12.9 L18.5 14.3 L20.7 16.6 L23.7 18.0 L26.5 19.5 L29.4 20.9" stroke="#f0a8ff" stroke-width="0.6" opacity="0.45"/>
<path d="M9.5 32.9 L11.5 34.6 L12.4 37.1 L14.4 38.8 L15.6 41.1 L15.4 43.7 L15.0 46.3 L13.4 48.3 L12.9 50.9 L13.4 53.5 L12.4 55.9" stroke="#f0a8ff" stroke-width="0.6" opacity="0.45"/>
<path d="M30.1 26.0 L32.4 26.0 L34.7 26.6 L37.0 26.9 L39.3 26.6 L41.3 25.4 L42.5 23.3" stroke="#f0a8ff" stroke-width="0.6" opacity="0.45"/>
<path d="M29.1 10.9 L26.2 10.3 L23.4 9.3 L21.1 7.4 L18.2 6.6 L15.2 6.1 L12.4 5.2 L9.4 4.9" stroke="#f0a8ff" stroke-width="0.6" opacity="0.45"/>
<path d="M11.4 27.5 L12.4 24.5 L12.4 21.3 L13.9 18.5 L16.4 16.5 L19.1 14.9 L21.7 13.0" stroke="#f0a8ff" stroke-width="0.6" opacity="0.45"/>
<path d="M5.2 1.7 L8.2 0.6 L11.1 -0.7 L14.2 -0.7 L17.4 -0.8 L20.6 -0.7 L23.4 0.8" stroke="#f0a8ff" stroke-width="0.6" opacity="0.45"/>
<path d="M48.9 5.7 L45.5 5.7 L42.2 6.5 L38.9 5.8 L35.6 6.2 L32.9 8.2 L30.8 10.9 L28.9 13.6 L28.5 17.0 L29.2 20.2 L30.5 23.4" stroke="#f0a8ff" stroke-width="0.6" opacity="0.45"/>
<path d="M28.6 5.9 L25.9 8.2 L22.7 9.9 L19.4 11.2 L16.9 13.8 L15.9 17.2 L16.8 20.6 L16.2 24.1 L14.7 27.4" stroke="#f0a8ff" stroke-width="0.6" opacity="0.45"/>
<path d="M48.1 1.0 L46.5 -0.3 L44.4 -0.8 L42.4 -0.4 L40.3 0.2 L38.4 1.1 L37.1 2.8 L35.2 3.7 L33.2 4.0" stroke="#f0a8ff" stroke-width="0.6" opacity="0.45"/>
<path d="M6.5 43.4 L3.8 45.0 L0.8 45.4 L-2.2 46.2 L-5.3 45.9 L-8.1 44.5" stroke="#f0a8ff" stroke-width="0.6" opacity="0.45"/>
<path d="M28.6 28.1 L27.9 30.0 L28.1 32.0 L29.1 33.8 L30.5 35.2 L32.1 36.5 L33.8 37.5 L34.9 39.2 L35.7 41.1 L36.5 42.9" stroke="#f0a8ff" stroke-width="0.6" opacity="0.45"/>
<path d="M20.8 56.2 L18.8 55.8 L16.8 55.4 L14.8 55.5 L12.7 55.3 L10.7 55.0 L8.7 54.5 L7.2 53.2 L5.3 52.3 L3.3 52.5" stroke="#c868ea" stroke-width="0.6" opacity="0.4"/>
<path d="M13.5 60.3 L15.0 63.2 L15.0 66.4 L15.0 69.6 L15.9 72.7 L17.1 75.7 L19.1 78.2" stroke="#c868ea" stroke-width="0.6" opacity="0.4"/>
<path d="M28.5 64.1 L28.2 60.7 L28.2 57.3 L27.5 54.0 L25.5 51.2 L23.5 48.4 L22.7 45.1" stroke="#c868ea" stroke-width="0.6" opacity="0.4"/>
<path d="M38.2 61.3 L40.6 59.1 L43.0 56.8 L46.2 55.8 L49.5 56.0 L52.8 55.7 L56.1 55.6 L59.4 56.0" stroke="#c868ea" stroke-width="0.6" opacity="0.4"/>
<path d="M32.2 65.3 L30.2 64.7 L28.5 63.4 L26.4 63.0 L24.5 62.2 L22.6 61.2 L20.6 60.6 L18.8 59.5" stroke="#c868ea" stroke-width="0.6" opacity="0.4"/>
<path d="M0.9 44.1 L-1.9 45.7 L-5.0 46.5 L-8.3 46.2 L-10.9 44.3 L-14.1 43.7" stroke="#c868ea" stroke-width="0.6" opacity="0.4"/>
<path d="M4.9 56.1 L3.2 52.9 L0.7 50.5 L-2.0 48.2 L-5.3 46.9 L-8.8 47.5 L-12.2 48.2 L-15.8 48.1" stroke="#c868ea" stroke-width="0.6" opacity="0.4"/>
<path d="M8.1 48.2 L6.1 51.1 L2.9 52.5 L0.4 55.0 L-2.8 56.4 L-6.3 57.1 L-9.3 58.8 L-12.2 60.8 L-15.7 61.4 L-19.1 62.4 L-22.4 63.5" stroke="#c868ea" stroke-width="0.6" opacity="0.4"/>
<path d="M8.9 66.6 L11.5 67.9 L13.5 70.0 L14.4 72.8 L15.3 75.5 L15.8 78.4 L17.2 80.9 L17.9 83.7 L17.6 86.6 L16.9 89.5" stroke="#c868ea" stroke-width="0.6" opacity="0.4"/>
<path d="M32.3 46.4 L35.3 44.4 L38.7 43.5 L41.9 41.9 L45.4 41.8 L48.7 43.1" stroke="#c868ea" stroke-width="0.6" opacity="0.4"/>
<path d="M73.5 3.7 L71.3 5.3 L68.7 5.7 L66.3 6.9 L63.6 7.1 L61.0 7.5 L58.8 9.1 L56.6 10.6 L54.2 11.7 L51.5 11.6" stroke="#9a44c4" stroke-width="0.6" opacity="0.45"/>
<path d="M79.9 45.0 L83.0 43.6 L86.3 43.9 L89.7 44.1 L92.5 45.8 L95.8 46.2 L99.1 45.5 L102.4 44.9 L105.5 43.6 L108.8 43.1" stroke="#9a44c4" stroke-width="0.6" opacity="0.45"/>
<path d="M88.9 23.5 L90.5 21.8 L92.9 21.1 L95.2 21.4 L97.6 21.9 L100.0 22.0 L102.2 21.1 L104.5 20.3 L106.5 19.0 L108.6 17.6" stroke="#9a44c4" stroke-width="0.6" opacity="0.45"/>
<path d="M76.8 5.1 L78.5 6.2 L80.3 7.3 L82.1 8.2 L83.5 9.6 L84.9 11.2 L86.2 12.7 L87.2 14.5 L89.0 15.6" stroke="#9a44c4" stroke-width="0.6" opacity="0.45"/>
<path d="M83.6 18.6 L85.9 17.9 L87.7 16.3 L89.4 14.6 L91.6 13.5 L94.1 13.5 L96.5 13.5 L98.9 12.9 L100.9 11.6" stroke="#9a44c4" stroke-width="0.6" opacity="0.45"/>
<path d="M87.7 41.6 L89.6 42.5 L91.7 42.3 L93.6 41.6 L95.6 41.4 L97.6 40.7" stroke="#9a44c4" stroke-width="0.6" opacity="0.45"/>
<path d="M81.4 22.5 L79.3 20.4 L77.6 18.0 L77.0 15.0 L75.1 12.7 L73.5 10.2 L72.9 7.2 L72.7 4.2 L72.6 1.2 L73.7 -1.6" stroke="#9a44c4" stroke-width="0.6" opacity="0.45"/>
<path d="M29.4 78.3 L28.8 81.2 L29.2 84.2 L28.7 87.1 L27.3 89.8 L24.9 91.5 L22.9 93.7 L21.4 96.3 L18.9 97.9 L17.1 100.3" stroke="#8a38b4" stroke-width="0.6" opacity="0.45"/>
<path d="M54.9 103.7 L57.0 104.6 L59.1 105.1 L61.3 105.6 L63.0 107.0 L64.6 108.4 L65.9 110.2" stroke="#8a38b4" stroke-width="0.6" opacity="0.45"/>
<path d="M11.0 93.9 L12.2 91.8 L14.1 90.5 L16.4 90.3 L18.4 89.1 L20.4 88.0" stroke="#8a38b4" stroke-width="0.6" opacity="0.45"/>
<path d="M41.7 89.1 L40.3 86.1 L37.7 84.2 L35.7 81.6 L34.0 78.8 L33.7 75.5 L33.3 72.3" stroke="#8a38b4" stroke-width="0.6" opacity="0.45"/>
<path d="M10.4 74.4 L10.5 78.0 L12.1 81.2 L15.0 83.3 L16.6 86.5 L18.2 89.7 L18.9 93.2" stroke="#8a38b4" stroke-width="0.6" opacity="0.45"/>
<path d="M18.0 87.7 L15.6 87.8 L13.3 87.6 L11.2 88.5 L9.4 90.1 L7.9 91.8 L6.6 93.8 L5.6 95.9 L3.7 97.3" stroke="#8a38b4" stroke-width="0.6" opacity="0.45"/>
<path d="M33.3 73.6 L35.2 70.8 L37.7 68.4 L40.9 67.2 L44.3 66.5 L47.5 65.5 L50.9 64.8 L54.2 64.1" stroke="#8a38b4" stroke-width="0.6" opacity="0.45"/>
<path d="M107.2 97.1 L106.1 100.1 L104.0 102.5 L102.2 105.1 L99.4 106.8 L96.3 107.1" stroke="#dc8cf6" stroke-width="0.7" opacity="0.5"/>
<path d="M93.4 95.0 L92.8 92.7 L92.9 90.4 L92.6 88.1 L91.3 86.1 L91.0 83.8 L91.8 81.7 L93.5 80.1 L94.3 77.9" stroke="#dc8cf6" stroke-width="0.7" opacity="0.5"/>
<path d="M73.1 105.8 L72.0 108.7 L70.7 111.5 L69.8 114.4 L67.5 116.4 L65.0 118.1 L62.1 119.1" stroke="#dc8cf6" stroke-width="0.7" opacity="0.5"/>
<path d="M96.6 106.9 L98.7 106.6 L100.8 106.1 L103.0 105.7 L105.1 105.9 L107.2 106.4 L109.3 105.8 L111.2 104.6 L112.7 103.1 L113.9 101.3" stroke="#dc8cf6" stroke-width="0.7" opacity="0.5"/>
<path d="M85.9 75.3 L83.2 73.9 L80.2 73.9 L77.2 73.6 L74.4 72.4 L71.4 72.7" stroke="#dc8cf6" stroke-width="0.7" opacity="0.5"/>
<path d="M104.6 61.0 L101.3 61.4 L97.9 61.5 L94.6 61.8 L91.2 62.2 L88.1 63.4 L85.1 64.8" stroke="#dc8cf6" stroke-width="0.7" opacity="0.5"/>
<path d="M75.0 81.7 L72.3 82.7 L69.4 83.0 L66.6 83.9 L64.8 86.1 L63.6 88.8 L63.8 91.7 L65.1 94.3" stroke="#dc8cf6" stroke-width="0.7" opacity="0.5"/>
<path d="M96.2 73.8 L98.5 72.4 L101.0 71.6 L103.3 70.3 L105.9 69.9 L108.2 68.6 L110.8 68.0 L113.0 66.7 L115.6 66.1 L117.6 64.3 L118.6 61.9" stroke="#dc8cf6" stroke-width="0.7" opacity="0.5"/>
<path d="M98.9 102.9 L101.5 104.3 L103.9 106.0 L106.4 107.6 L109.3 108.4 L112.2 107.6 L115.1 107.0" stroke="#dc8cf6" stroke-width="0.7" opacity="0.5"/>
<path d="M66.0 76.8 L64.9 74.0 L64.4 71.1 L63.5 68.3 L63.4 65.3 L64.3 62.5 L64.0 59.6 L63.0 56.8 L61.0 54.6" stroke="#dc8cf6" stroke-width="0.7" opacity="0.5"/>
<path d="M83.1 80.2 L82.5 83.1 L82.6 86.1 L82.1 89.1 L81.4 92.0 L80.4 94.8 L79.0 97.5 L76.9 99.6 L75.7 102.4 L75.3 105.3" stroke="#dc8cf6" stroke-width="0.7" opacity="0.5"/>
<path d="M107.0 103.3 L107.8 100.4 L107.8 97.4 L106.3 94.8 L103.8 93.2 L100.8 92.5" stroke="#dc8cf6" stroke-width="0.7" opacity="0.5"/>
<path d="M73.4 94.3 L76.0 93.2 L78.5 91.7 L80.9 90.1 L82.7 87.9 L84.1 85.4 L86.2 83.3" stroke="#dc8cf6" stroke-width="0.7" opacity="0.5"/>
<path d="M100.3 56.2 L101.9 59.1 L103.8 61.8 L104.8 65.0 L106.2 68.1 L108.6 70.3 L111.7 71.6 L114.2 73.8 L116.4 76.3 L119.1 78.3" stroke="#dc8cf6" stroke-width="0.7" opacity="0.5"/>
<path d="M96.4 98.3 L98.4 100.0 L99.5 102.3 L101.6 103.9 L104.1 104.4 L106.6 105.1 L109.1 105.8 L111.4 106.9 L113.9 107.5 L116.2 108.9 L118.7 109.0" stroke="#dc8cf6" stroke-width="0.7" opacity="0.5"/>
<path d="M70.2 89.1 L72.2 91.1 L74.5 92.7 L75.9 95.1 L78.0 96.9 L79.7 99.1 L81.8 100.9 L83.0 103.5" stroke="#dc8cf6" stroke-width="0.7" opacity="0.5"/>
<path d="M75.5 76.7 L72.5 75.0 L70.2 72.3 L67.5 70.3 L64.3 68.8 L61.1 67.6 L58.7 65.1 L57.6 61.9 L55.6 59.0 L53.2 56.5 L50.5 54.3" stroke="#dc8cf6" stroke-width="0.7" opacity="0.5"/>
<path d="M77.4 74.2 L75.3 76.6 L73.6 79.2 L72.9 82.3 L71.9 85.3 L72.0 88.5 L73.5 91.3" stroke="#dc8cf6" stroke-width="0.7" opacity="0.5"/>
<path d="M81.8 99.9 L83.0 97.3 L84.4 94.8 L86.8 93.4 L89.4 92.3 L92.2 92.2 L94.7 90.7" stroke="#dc8cf6" stroke-width="0.7" opacity="0.5"/>
<path d="M86.2 96.1 L88.7 96.4 L91.1 96.1 L93.1 94.6 L95.2 93.6 L96.7 91.6" stroke="#dc8cf6" stroke-width="0.7" opacity="0.5"/>
<path d="M99.2 75.6 L98.5 72.5 L98.7 69.3 L98.6 66.0 L97.9 62.9 L98.8 59.8 L100.3 57.0 L101.8 54.1 L103.4 51.3" stroke="#dc8cf6" stroke-width="0.7" opacity="0.5"/>
<path d="M94.6 91.7 L97.8 91.6 L101.0 91.1 L103.4 89.0 L105.5 86.6 L106.4 83.5 L107.1 80.4 L108.0 77.3 L107.2 74.2" stroke="#dc8cf6" stroke-width="0.7" opacity="0.5"/>
</g>
<g filter="url(#lgb)" fill="none" stroke-linecap="round" stroke-linejoin="round">
<path d="M0 13 C5 19 9 24 14 29 S24 38 31 42" stroke="#f0b0ff" stroke-width="1.3" opacity="0.95"/>
<path d="M0 17 C6 24 12 30 20 37 S30 44 36 47" stroke="#e59af8" stroke-width="1.0" opacity="0.8"/>
<path d="M0 22 C8 30 18 36 32 45" stroke="#d888f0" stroke-width="0.8" opacity="0.7"/>
<path d="M5.9 13.5 L11.9 7.5 L10.4 3" stroke="#e08cf4" stroke-width="0.8" opacity="0.8"/>
<path d="M17.9 29.3 L26.1 23.3 L35.1 16.5 L41.1 3.8 L44.1 0" stroke="#e48ff6" stroke-width="0.9" opacity="0.85"/>
<path d="M29.1 35.3 L33.6 26.3 L35.1 17.3" stroke="#e08cf4" stroke-width="0.9" opacity="0.8"/>
<path d="M35.1 17.3 L41.1 26.3 L42.6 35.3" stroke="#cf78ea" stroke-width="0.8" opacity="0.7"/>
<path d="M44.1 24.8 L50.1 24" stroke="#e9a6fa" stroke-width="1.0" opacity="0.85"/>
<path d="M22.4 22.5 L23.9 15.8 L24.6 8.3" stroke="#cc70e8" stroke-width="0.7" opacity="0.7"/>
<path d="M41 27 C46 22 48 14 47 6" stroke="#b860dc" stroke-width="0.7" opacity="0.55"/>
<path d="M12 8 C16 12 20 12 24 8" stroke="#c870e4" stroke-width="0.6" opacity="0.5"/>
<path d="M0 48 C8 50 18 52 30 60" stroke="#c565e6" stroke-width="0.9" opacity="0.7"/>
<path d="M0 54 C10 54 20 58 28 64" stroke="#b455da" stroke-width="0.8" opacity="0.6"/>
<path d="M2 40 C8 44 16 46 26 52" stroke="#5a1a82" stroke-width="1.2" opacity="0.8"/>
<path d="M0.6 67.3 L11.1 58.3 L20.9 54.5" stroke="#d070ee" stroke-width="1.0" opacity="0.8"/>
<path d="M55.1 31.5 L61.9 20.3 L69.4 13.5 L74.6 9" stroke="#b455dc" stroke-width="1.1" opacity="0.85"/>
<path d="M60.4 6 L64.9 7.5 L70.1 4.5" stroke="#7a2ca0" stroke-width="0.9" opacity="0.7"/>
<path d="M73.9 35.3 L76.1 27.8 L82.1 25.5 L87.4 22.1" stroke="#a850d2" stroke-width="1.0" opacity="0.8"/>
<path d="M93.4 28.9 L97.1 33.8 L100.1 38.3" stroke="#dc90f4" stroke-width="1.1" opacity="0.9"/>
<path d="M108.4 21 C104 30 100 38 90 47 S80 50 76 52" stroke="#e59af8" stroke-width="1.3" opacity="0.9"/>
<path d="M108.4 32 C101 41 96 45 86 50" stroke="#d888f0" stroke-width="1.0" opacity="0.8"/>
<path d="M108.4 40 C100 48 92 52 82 54" stroke="#cf78ea" stroke-width="0.9" opacity="0.75"/>
<path d="M64 14 C66 20 68 26 72 30" stroke="#6a2690" stroke-width="0.8" opacity="0.6"/>
<path d="M84 30 C85 36 86 42 85 48" stroke="#6a2690" stroke-width="0.8" opacity="0.6"/>
<path d="M82 56 C92 62 100 68 108.4 74.8" stroke="#e090f6" stroke-width="1.0" opacity="0.8"/>
<path d="M78 60 C90 70 100 80 108.4 90" stroke="#d47cf0" stroke-width="1.0" opacity="0.8"/>
<path d="M74 64 C84 78 96 92 106 108" stroke="#c868ea" stroke-width="1.0" opacity="0.75"/>
<path d="M84.4 80.8 L94.1 94.3 L104.6 104.8" stroke="#d47cf0" stroke-width="1.0" opacity="0.8"/>
<path d="M90 58 C96 70 100 84 108 96" stroke="#c060e4" stroke-width="0.9" opacity="0.7"/>
<path d="M96 56 C100 66 104 76 108.4 84" stroke="#cf78ea" stroke-width="0.9" opacity="0.7"/>
<path d="M80 72 C90 74 100 80 108.4 82" stroke="#b858de" stroke-width="0.8" opacity="0.7"/>
<path d="M78 84 C88 84 98 90 108.4 100" stroke="#b858de" stroke-width="0.8" opacity="0.65"/>
<path d="M70.9 80.8 L69.4 86 L76.9 91.3 L80.6 100.3" stroke="#c868ea" stroke-width="0.9" opacity="0.8"/>
<path d="M69.4 86 L61.1 95 L57.4 100.3" stroke="#b455dc" stroke-width="0.9" opacity="0.75"/>
<path d="M72 70 C76 76 80 80 86 82" stroke="#a448ce" stroke-width="0.8" opacity="0.6"/>
<path d="M60 104 C70 100 80 102 92 108" stroke="#8a34b4" stroke-width="0.8" opacity="0.6"/>
<path d="M21.6 86 L28.4 82.3 L33.6 75.5 L41.1 72.5" stroke="#cc70ec" stroke-width="1.3" opacity="0.9"/>
<path d="M16.4 72.5 L19.4 78.5 L21.6 86 L21.6 97.3" stroke="#9a44c4" stroke-width="0.9" opacity="0.75"/>
<path d="M36.6 83 L38.1 91.3 L41.1 95.8" stroke="#b860de" stroke-width="0.9" opacity="0.8"/>
<path d="M0.6 80.8 L3.6 91.3 L12.6 96.5" stroke="#7c30a4" stroke-width="0.9" opacity="0.7"/>
<path d="M41.1 72.5 C46 70 50 70 54 74" stroke="#8a34b4" stroke-width="0.8" opacity="0.6"/>
<path d="M44 80 C48 86 52 88 56 88" stroke="#7a2ca0" stroke-width="0.8" opacity="0.6"/>
<path d="M6 70 C10 74 12 78 12 84" stroke="#6a2690" stroke-width="0.8" opacity="0.6"/>
<circle cx="10.4" cy="3" r="0.9" fill="#e9b0fb" stroke="none" opacity=".9"/>
<circle cx="44.1" cy="0.8" r="0.8" fill="#e9b0fb" stroke="none" opacity=".9"/>
<circle cx="50.1" cy="24" r="1.0" fill="#e9b0fb" stroke="none" opacity=".9"/>
<circle cx="24.6" cy="8.3" r="0.7" fill="#e9b0fb" stroke="none" opacity=".9"/>
<circle cx="74.6" cy="9" r="1.0" fill="#e9b0fb" stroke="none" opacity=".9"/>
<circle cx="87.4" cy="22.1" r="1.0" fill="#e9b0fb" stroke="none" opacity=".9"/>
<circle cx="93.4" cy="28.9" r="1.2" fill="#e9b0fb" stroke="none" opacity=".9"/>
<circle cx="106.1" cy="14.3" r="1.1" fill="#e9b0fb" stroke="none" opacity=".9"/>
<circle cx="55.1" cy="31.5" r="1.2" fill="#e9b0fb" stroke="none" opacity=".9"/>
<circle cx="70.1" cy="4.5" r="0.8" fill="#e9b0fb" stroke="none" opacity=".9"/>
<circle cx="16.4" cy="72.5" r="1.0" fill="#e9b0fb" stroke="none" opacity=".9"/>
<circle cx="21.6" cy="97.3" r="0.9" fill="#e9b0fb" stroke="none" opacity=".9"/>
<circle cx="36.6" cy="83" r="1.0" fill="#e9b0fb" stroke="none" opacity=".9"/>
<circle cx="41.1" cy="95.8" r="1.0" fill="#e9b0fb" stroke="none" opacity=".9"/>
<circle cx="53.1" cy="88.3" r="1.2" fill="#e9b0fb" stroke="none" opacity=".9"/>
<circle cx="12.6" cy="96.5" r="0.8" fill="#e9b0fb" stroke="none" opacity=".9"/>
<circle cx="61.1" cy="95" r="1.0" fill="#e9b0fb" stroke="none" opacity=".9"/>
<circle cx="57.4" cy="100.3" r="0.9" fill="#e9b0fb" stroke="none" opacity=".9"/>
<circle cx="76.9" cy="91.3" r="0.8" fill="#e9b0fb" stroke="none" opacity=".9"/>
<circle cx="33.6" cy="75.5" r="0.8" fill="#e9b0fb" stroke="none" opacity=".9"/>
<circle cx="0.8" cy="80.8" r="1.0" fill="#e9b0fb" stroke="none" opacity=".9"/>
<circle cx="39.1" cy="1.1" r="0.33" fill="#b060d8" stroke="none" opacity=".6"/>
<circle cx="99.7" cy="98.9" r="0.37" fill="#b060d8" stroke="none" opacity=".6"/>
<circle cx="17.5" cy="68.6" r="0.51" fill="#b060d8" stroke="none" opacity=".6"/>
<circle cx="34.7" cy="42.0" r="0.46" fill="#b060d8" stroke="none" opacity=".6"/>
<circle cx="29.6" cy="95.7" r="0.44" fill="#b060d8" stroke="none" opacity=".6"/>
<circle cx="78.9" cy="32.8" r="0.35" fill="#b060d8" stroke="none" opacity=".6"/>
<circle cx="99.3" cy="98.5" r="0.53" fill="#b060d8" stroke="none" opacity=".6"/>
<circle cx="1.9" cy="52.0" r="0.54" fill="#b060d8" stroke="none" opacity=".6"/>
<circle cx="33.8" cy="21.3" r="0.41" fill="#b060d8" stroke="none" opacity=".6"/>
<circle cx="63.5" cy="64.8" r="0.44" fill="#b060d8" stroke="none" opacity=".6"/>
<circle cx="54.9" cy="47.7" r="0.57" fill="#b060d8" stroke="none" opacity=".6"/>
<circle cx="43.5" cy="98.4" r="0.58" fill="#b060d8" stroke="none" opacity=".6"/>
<circle cx="67.7" cy="101.7" r="0.47" fill="#b060d8" stroke="none" opacity=".6"/>
<circle cx="92.2" cy="52.4" r="0.42" fill="#b060d8" stroke="none" opacity=".6"/>
<circle cx="103.2" cy="71.3" r="0.53" fill="#b060d8" stroke="none" opacity=".6"/>
<circle cx="10.0" cy="93.2" r="0.42" fill="#b060d8" stroke="none" opacity=".6"/>
<circle cx="23.5" cy="14.5" r="0.54" fill="#b060d8" stroke="none" opacity=".6"/>
<circle cx="105.4" cy="85.8" r="0.53" fill="#b060d8" stroke="none" opacity=".6"/>
<circle cx="85.1" cy="6.3" r="0.58" fill="#b060d8" stroke="none" opacity=".6"/>
<circle cx="96.4" cy="94.4" r="0.57" fill="#b060d8" stroke="none" opacity=".6"/>
<circle cx="48.6" cy="26.6" r="0.43" fill="#b060d8" stroke="none" opacity=".6"/>
<circle cx="94.5" cy="44.9" r="0.53" fill="#b060d8" stroke="none" opacity=".6"/>
<circle cx="15.6" cy="98.1" r="0.54" fill="#b060d8" stroke="none" opacity=".6"/>
<circle cx="14.2" cy="80.1" r="0.49" fill="#b060d8" stroke="none" opacity=".6"/>
<circle cx="55.7" cy="5.7" r="0.47" fill="#b060d8" stroke="none" opacity=".6"/>
<circle cx="19.3" cy="22.1" r="0.57" fill="#b060d8" stroke="none" opacity=".6"/>
</g>
<path d="M62 0 H108.4 V24 C98 12 82 4 62 0Z" fill="#040107" opacity=".85" filter="url(#lgb2)"/>
<path d="M0 84 V108.4 H58 C34 104 12 96 0 84Z" fill="#040107" opacity=".8" filter="url(#lgb2)"/>
<text filter="url(#lgt)" x="28.2" y="61.25" textLength="52.7" lengthAdjust="spacingAndGlyphs" style="font-family:'DejaVu Sans Condensed','DejaVu Sans','Liberation Sans',sans-serif;font-stretch:condensed;font-weight:bold;font-size:33.6px" fill="#fff" stroke="#fff" stroke-width="0.7">AURA</text>
<text filter="url(#lgt)" x="28.2" y="72.65" textLength="53.0" lengthAdjust="spacingAndGlyphs" style="font-family:'DejaVu Sans Light','DejaVu Sans','Liberation Sans',sans-serif;font-weight:200;font-size:10.3px" fill="#eee6f4" stroke="#eee6f4" stroke-width="0.25">NEURON</text>
</g></g>
</svg>
</body></html>
